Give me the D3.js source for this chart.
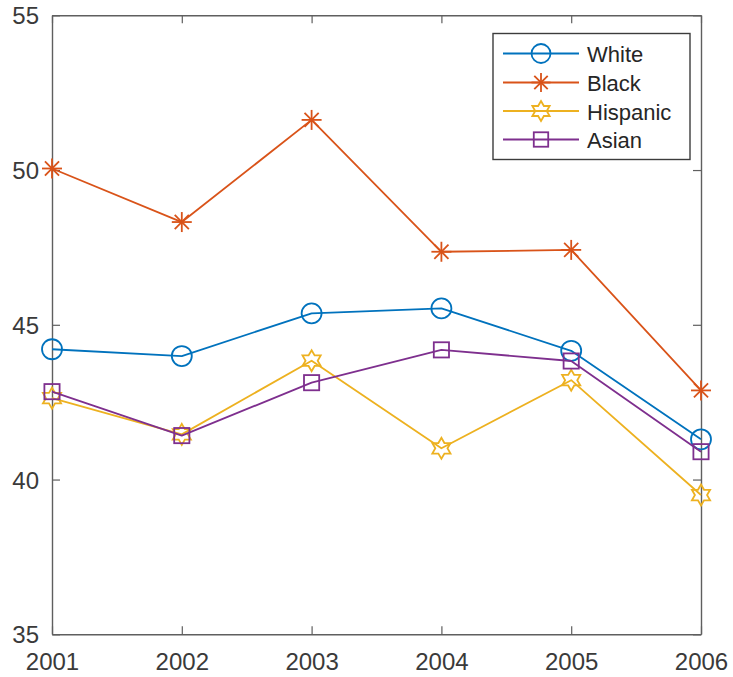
<!DOCTYPE html>
<html>
<head>
<meta charset="utf-8">
<script src="https://cdn.jsdelivr.net/npm/d3@7"></script>
<style>
  html, body { margin: 0; padding: 0; background: #fff; }
  svg { display: block; font-family: "Liberation Sans", Arial, Helvetica, sans-serif; }
</style>
</head>
<body>
<script>
// Years on the x axis
const years = [2001, 2002, 2003, 2004, 2005, 2006];

// Values per group
const white    = [44.21, 43.99, 45.37, 45.53, 44.16, 41.30];
const black    = [50.05, 48.32, 51.62, 47.36, 47.42, 42.88];
const hispanic = [42.63, 41.46, 43.84, 41.01, 43.21, 39.50];
const asian    = [42.84, 41.42, 43.13, 44.19, 43.83, 40.90];

const seriesNames = ["White", "Black", "Hispanic", "Asian"];
const yTicks = [35, 40, 45, 50, 55];

const W = 733, H = 677;
const plotLeft = 52, plotRight = 701, plotTop = 15.3, plotBottom = 634.3;

const colors = ["#0072BD", "#D95319", "#EDB120", "#7E2F8E"];
const markers = ["circle", "asterisk", "hexagram", "square"];
const seriesData = [white, black, hispanic, asian];

const svg = d3.select("body").append("svg").attr("width", W).attr("height", H);

const x = d3.scaleLinear().domain([2001, 2006]).range([plotLeft, plotRight]);
const y = d3.scaleLinear().domain([35, 55]).range([plotBottom, plotTop]);

const axisColor = "#5f5f5f";
const textColor = "#3a3a3a";
const tickLen = 8;

// Axes: bottom/left with labels, top/right mirrored ticks only
const xAxis = d3.axisBottom(x).tickValues(years).tickFormat(d3.format("d"))
  .tickSizeInner(-tickLen).tickSizeOuter(0).tickPadding(20);
const yAxis = d3.axisLeft(y).tickValues(yTicks).tickFormat(d3.format("d"))
  .tickSizeInner(-tickLen).tickSizeOuter(0).tickPadding(13);
const xTop = d3.axisTop(x).tickValues(years).tickFormat("").tickSizeInner(-tickLen).tickSizeOuter(0);
const yRight = d3.axisRight(y).tickValues(yTicks).tickFormat("").tickSizeInner(-tickLen).tickSizeOuter(0);

function styleAxis(g) {
  g.selectAll("path.domain").attr("stroke", axisColor).attr("stroke-width", 1.4);
  g.selectAll(".tick line").attr("stroke", axisColor).attr("stroke-width", 1.2);
  g.selectAll(".tick text").attr("fill", textColor).attr("font-size", 24)
    .attr("font-family", "Liberation Sans, Arial, sans-serif");
}

svg.append("g").attr("transform", `translate(0,${plotBottom})`).call(xAxis).call(styleAxis)
  .selectAll(".tick text").attr("dy", null).attr("y", 35.5);
svg.append("g").attr("transform", `translate(${plotLeft},0)`).call(yAxis).call(styleAxis)
  .selectAll(".tick text").attr("dy", "0.36em");
svg.append("g").attr("transform", `translate(0,${plotTop})`).call(xTop).call(styleAxis);
svg.append("g").attr("transform", `translate(${plotRight},0)`).call(yRight).call(styleAxis);

// Marker drawing
function drawMarker(g, type, cx, cy, color, scale) {
  const s = scale || 1;
  const sw = 1.8;
  if (type === "circle") {
    g.append("circle").attr("cx", cx).attr("cy", cy).attr("r", 10 * s)
      .attr("fill", "none").attr("stroke", color).attr("stroke-width", sw);
  } else if (type === "square") {
    const a = 7.6 * s;
    g.append("rect").attr("x", cx - a).attr("y", cy - a).attr("width", 2 * a).attr("height", 2 * a)
      .attr("fill", "none").attr("stroke", color).attr("stroke-width", sw);
  } else if (type === "asterisk") {
    const r = 10 * s, d = r * Math.SQRT1_2;
    const segs = [[0, -r, 0, r], [-r, 0, r, 0], [-d, -d, d, d], [-d, d, d, -d]];
    segs.forEach(sg => g.append("line")
      .attr("x1", cx + sg[0]).attr("y1", cy + sg[1]).attr("x2", cx + sg[2]).attr("y2", cy + sg[3])
      .attr("stroke", color).attr("stroke-width", sw));
  } else if (type === "hexagram") {
    const ro = 10.5 * s, ri = ro / Math.sqrt(3);
    const pts = [];
    for (let i = 0; i < 12; i++) {
      const ang = -Math.PI / 2 + i * Math.PI / 6;
      const r = i % 2 === 0 ? ro : ri;
      pts.push([cx + r * Math.cos(ang), cy + r * Math.sin(ang)]);
    }
    g.append("polygon").attr("points", pts.map(p => p.join(",")).join(" "))
      .attr("fill", "none").attr("stroke", color).attr("stroke-width", sw)
      .attr("stroke-linejoin", "miter");
  }
}

const line = d3.line().x((d, i) => x(years[i])).y(d => y(d));

seriesData.forEach((vals, k) => {
  const g = svg.append("g");
  g.append("path").datum(vals).attr("d", line)
    .attr("fill", "none").attr("stroke", colors[k]).attr("stroke-width", 1.8)
    .attr("stroke-linejoin", "round");
  vals.forEach((v, i) => drawMarker(g, markers[k], x(years[i]), y(v), colors[k]));
});

// Legend
const leg = svg.append("g");
leg.append("rect").attr("x", 493).attr("y", 33.5).attr("width", 197).attr("height", 126)
  .attr("fill", "#fff").attr("stroke", "#3c3c3c").attr("stroke-width", 1.4);
const rowY = [53.5, 82.5, 111, 139.5];
seriesNames.forEach((name, k) => {
  const cy = rowY[k];
  leg.append("line").attr("x1", 503).attr("x2", 579).attr("y1", cy).attr("y2", cy)
    .attr("stroke", colors[k]).attr("stroke-width", 1.8);
  drawMarker(leg, markers[k], 541, cy, colors[k], 0.95);
  leg.append("text").attr("x", 587).attr("y", cy + 8.5).text(name)
    .attr("font-size", 22).attr("fill", "#262626");
});
</script>
</body>
</html>
